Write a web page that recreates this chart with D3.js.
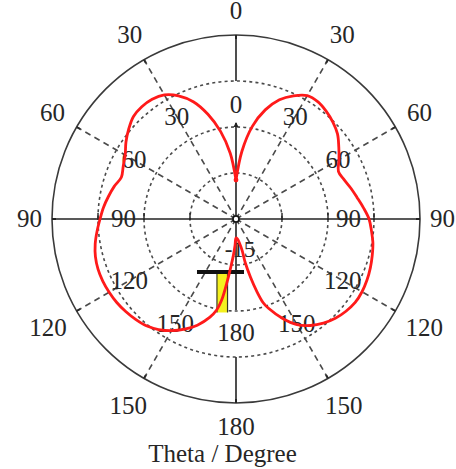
<!DOCTYPE html>
<html>
<head>
<meta charset="utf-8">
<script src="https://cdn.jsdelivr.net/npm/d3@7"></script>
<style>
  html, body { margin: 0; padding: 0; background: #fff; }
  svg { display: block; }
  text { font-family: "Liberation Serif", "Times New Roman", serif; fill: #262626; }
</style>
</head>
<body>
<svg id="chart" width="456" height="469"></svg>
<script>
// Radiation pattern, gain in dB versus theta (degrees, clockwise from the top)
const thetaDeg = [
  0, 5, 10, 15, 20, 25, 30, 35, 40, 45, 50, 55, 60, 65, 70, 75, 80, 85, 90,
  95, 100, 105, 110, 115, 120, 125, 130, 135, 140, 145, 150, 155, 160, 162,
  164, 166, 168, 169, 172, 176, 180,
  182, 184, 186, 188, 190, 192, 195, 200, 205, 210, 215, 220, 225, 230, 235,
  240, 245, 250, 255, 260, 265, 270, 275, 280, 285, 290, 295, 300, 305, 310,
  315, 320, 325, 330, 335, 340, 345, 350, 355, 360
];
const gainDb = [
  -10.76, -7.61, -4.78, -2.72, -1.20, -0.22, 0.49, 0.54, 0.27, -0.11, -0.60,
  -1.36, -2.07, -2.72, -2.50, -2.07, -1.63, -1.09, -0.54,
  -0.22, 0.11, 0.33, 0.54, 0.71, 0.82, 0.82, 0.60, 0.27, -0.22, -0.87, -1.74,
  -3.10, -4.67, -5.43, -6.85, -8.48, -10.11, -11.52, -12.39, -12.83, -12.93,
  -12.17, -11.09, -9.89, -8.15, -6.09, -4.89, -3.93, -2.72, -1.79, -0.98,
  -0.33, 0.16, 0.43, 0.65, 0.82, 0.92, 0.98, 0.96, 0.82, 0.54, 0.16, -0.22,
  -0.54, -0.92, -1.30, -1.74, -1.47, -1.09, -0.40, 0.22, 0.76, 0.93, 0.89,
  0.58, -0.22, -1.43, -3.21, -5.33, -7.83, -10.76
];

// Polar grid
const radialDomain = [-15, 5];          // centre .. outer circle, dB
const ringValues = [-10, -5, 0];        // dotted rings
const innerAxisValue = -5;              // inner angular axis ring
const angleTicks = [0, 30, 60, 90, 120, 150, 180, 210, 240, 270, 300, 330];
const angleTickLabels = ["0", "30", "60", "90", "120", "150", "180",
                         "150", "120", "90", "60", "30"];
const radialLabel = "-15";
const axisTitle = "Theta / Degree";

// Marker annotation below the centre, in radial units (dB steps) from the centre
const markerBar = { x0: -4.24, x1: 0.87, y: 5.76 };
const markerBox = { x0: -2.07, x1: -0.92, y0: 5.92, y1: 10.16 };

const cx = 236, cy = 219, R = 184;
const fontSize = 25;

const svg = d3.select("#chart");
const g = svg.append("g").attr("transform", `translate(${cx},${cy})`);

const r = d3.scaleLinear().domain(radialDomain).range([0, R]);
const unit = R / (radialDomain[1] - radialDomain[0]);   // pixels per dB step
const rad = d => d * Math.PI / 180;
const px = (rr, a) => rr * Math.sin(rad(a));
const py = (rr, a) => -rr * Math.cos(rad(a));

const gridColor = "#4a4a4a";

// dotted rings
g.selectAll("circle.ring").data(ringValues).join("circle")
  .attr("class", "ring")
  .attr("r", d => r(d))
  .attr("fill", "none")
  .attr("stroke", gridColor)
  .attr("stroke-width", 1.6)
  .attr("stroke-dasharray", "3,3.2");

// dashed spokes
g.selectAll("line.spoke").data(angleTicks.filter(a => a % 90 !== 0)).join("line")
  .attr("class", "spoke")
  .attr("x1", 0).attr("y1", 0)
  .attr("x2", a => px(R, a)).attr("y2", a => py(R, a))
  .attr("stroke", gridColor)
  .attr("stroke-width", 1.6)
  .attr("stroke-dasharray", "6,4.5");

// outer circle
g.append("circle")
  .attr("r", r(radialDomain[1]))
  .attr("fill", "none")
  .attr("stroke", "#3a3a3a")
  .attr("stroke-width", 1.6);

// ticks on the outer circle
g.selectAll("line.otick").data(angleTicks).join("line")
  .attr("class", "otick")
  .attr("x1", a => px(R, a)).attr("y1", a => py(R, a))
  .attr("x2", a => px(R - 4, a)).attr("y2", a => py(R - 4, a))
  .attr("stroke", "#2a2a2a")
  .attr("stroke-width", 2);

const axisColor = "#222";
// horizontal axis across the full circle
g.append("line")
  .attr("x1", -R).attr("x2", R).attr("y1", 0).attr("y2", 0)
  .attr("stroke", axisColor).attr("stroke-width", 1.6);
// ticks where the rings cross the horizontal axis
const hTicks = ringValues.flatMap(v => [r(v), -r(v)]);
g.selectAll("line.htick").data(hTicks).join("line")
  .attr("class", "htick")
  .attr("x1", d => d).attr("x2", d => d)
  .attr("y1", -6).attr("y2", 1)
  .attr("stroke", axisColor).attr("stroke-width", 1.4);

// vertical axis: outer segments and the inner axis
const rInner = r(innerAxisValue);
const rTop = r(0);
[[rTop, R, 0], [rTop, R, 180]].forEach(([a, b, ang]) => {
  g.append("line")
    .attr("x1", px(a, ang)).attr("y1", py(a, ang))
    .attr("x2", px(b, ang)).attr("y2", py(b, ang))
    .attr("stroke", axisColor).attr("stroke-width", 1.6);
});
g.append("line")
  .attr("x1", 0).attr("x2", 0)
  .attr("y1", -(rInner + 4)).attr("y2", rInner - 1)
  .attr("stroke", axisColor).attr("stroke-width", 1.6);
g.append("path")
  .attr("d", `M-2.5,${-(rInner + 0)} L0,${-(rInner + 5)} L2.5,${-(rInner + 0)} Z`)
  .attr("fill", axisColor);

// angular labels, outside the outer circle and outside the inner axis ring
function placeLabels(baseR, cls) {
  g.selectAll("text." + cls).data(angleTicks).join("text")
    .attr("class", cls)
    .attr("text-anchor", "middle")
    .attr("font-size", fontSize)
    .each(function (a, i) {
      const s = angleTickLabels[i];
      const w = s.length * 12.5;
      const ext = Math.abs(Math.sin(rad(a))) * w / 2 + Math.abs(Math.cos(rad(a))) * 14;
      const rr = baseR + ext;
      d3.select(this)
        .attr("x", px(rr, a))
        .attr("y", py(rr, a) + 0.33 * fontSize)
        .text(s);
    });
}
placeLabels(R + 10, "outer");
placeLabels(rInner + 8, "inner");

// radial axis label at the centre value
g.append("text")
  .attr("x", r(radialDomain[0]) + 4)
  .attr("y", 30 + 0.33 * fontSize)
  .attr("text-anchor", "middle")
  .attr("font-size", 23)
  .text(radialLabel);

// marker annotation: yellow box and a bar
g.append("rect")
  .attr("x", markerBox.x0 * unit)
  .attr("y", markerBox.y0 * unit)
  .attr("width", (markerBox.x1 - markerBox.x0) * unit)
  .attr("height", (markerBox.y1 - markerBox.y0) * unit)
  .attr("fill", "#f4f01e");
[markerBox.x0, markerBox.x1].forEach(x => {
  g.append("line")
    .attr("x1", x * unit).attr("x2", x * unit)
    .attr("y1", markerBox.y0 * unit).attr("y2", markerBox.y1 * unit)
    .attr("stroke", "#3a3a20").attr("stroke-width", 1.2);
});
g.append("line")
  .attr("x1", markerBar.x0 * unit).attr("x2", markerBar.x1 * unit)
  .attr("y1", markerBar.y * unit).attr("y2", markerBar.y * unit)
  .attr("stroke", "#111").attr("stroke-width", 4);

// pattern
const pattern = thetaDeg.map((t, i) => [rad(t), r(gainDb[i])]);
const line = d3.lineRadial().curve(d3.curveCatmullRom.alpha(0.5));
g.append("path")
  .attr("d", line(pattern))
  .attr("fill", "none")
  .attr("stroke", "#ff1a1a")
  .attr("stroke-width", 2.8)
  .attr("stroke-linejoin", "round");
g.append("circle")
  .attr("cx", px(r(gainDb[0]), 0)).attr("cy", py(r(gainDb[0]), 0))
  .attr("r", 2.4).attr("fill", "#ff1a1a");

// centre marker
g.append("circle")
  .attr("r", 3).attr("fill", "#fff")
  .attr("stroke", "#111").attr("stroke-width", 1.6);

// axis title
svg.append("text")
  .attr("x", cx - 13.5)
  .attr("y", 461.5)
  .attr("text-anchor", "middle")
  .attr("font-size", fontSize)
  .text(axisTitle);
</script>
</body>
</html>
